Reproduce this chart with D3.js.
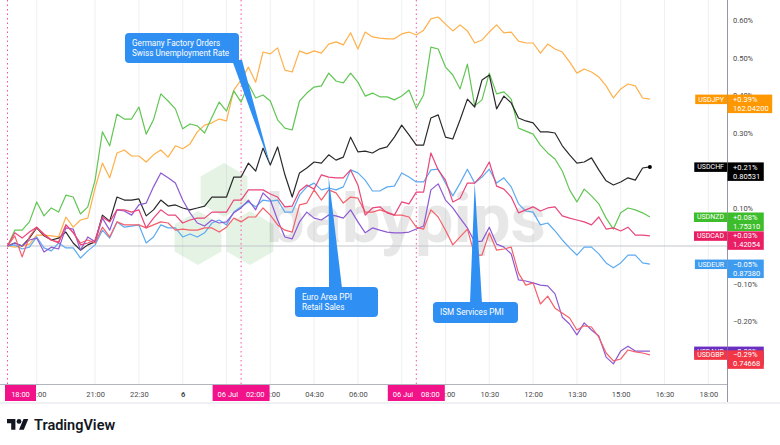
<!DOCTYPE html>
<html>
<head>
<meta charset="utf-8">
<script src="https://cdn.jsdelivr.net/npm/d3@7"></script>
<style>
  body { margin: 0; background: #fff; }
  svg { display: block; font-family: Roboto, "Open Sans", sans-serif; }
</style>
</head>
<body>
<div id="chart"></div>
<script>
// % change since 18:00, one value every 15 min (18:00 -> 16:00 next day)
const usdjpy = [0, -0.003, 0, 0.005, 0.029, 0.029, 0.027, 0.024, 0.077, 0.050,
  0.069, 0.074, 0.154, 0.220, 0.181, 0.247, 0.255, 0.239, 0.239, 0.223,
  0.242, 0.255, 0.236, 0.266, 0.258, 0.271, 0.303, 0.321, 0.327, 0.337,
  0.332, 0.414, 0.441, 0.475, 0.435, 0.515, 0.510, 0.526, 0.467, 0.462,
  0.518, 0.510, 0.518, 0.512, 0.536, 0.542, 0.534, 0.566, 0.523, 0.568,
  0.555, 0.552, 0.550, 0.550, 0.563, 0.568, 0.560, 0.573, 0.603, 0.608,
  0.589, 0.571, 0.587, 0.571, 0.539, 0.547, 0.568, 0.587, 0.566, 0.568,
  0.544, 0.539, 0.539, 0.512, 0.536, 0.523, 0.515, 0.489, 0.459, 0.470,
  0.462, 0.449, 0.425, 0.393, 0.417, 0.430, 0.425, 0.393, 0.390];
const usdnzd = [0, 0.042, 0.042, 0.064, 0.117, 0.080, 0.101, 0.090, 0.135, 0.130,
  0.085, 0.104, 0.175, 0.303, 0.266, 0.350, 0.337, 0.337, 0.369, 0.297,
  0.335, 0.404, 0.385, 0.364, 0.311, 0.324, 0.319, 0.300, 0.342, 0.382,
  0.358, 0.412, 0.382, 0.430, 0.393, 0.401, 0.385, 0.335, 0.313, 0.308,
  0.385, 0.406, 0.422, 0.425, 0.459, 0.438, 0.433, 0.459, 0.435, 0.398,
  0.406, 0.396, 0.396, 0.388, 0.398, 0.414, 0.366, 0.401, 0.528, 0.523,
  0.475, 0.454, 0.417, 0.483, 0.372, 0.388, 0.459, 0.404, 0.409, 0.390,
  0.313, 0.305, 0.297, 0.268, 0.247, 0.231, 0.199, 0.149, 0.117, 0.151,
  0.133, 0.112, 0.074, 0.045, 0.088, 0.101, 0.096, 0.088, 0.077];
const usdchf = [0, 0.008, 0, 0.021, 0.048, 0.027, 0.016, 0.021, 0.037, 0.008,
  -0.011, 0.003, 0.011, 0.082, 0.066, 0.130, 0.122, 0.122, 0.125, 0.080,
  0.096, 0.122, 0.106, 0.109, 0.101, 0.096, 0.101, 0.106, 0.130, 0.130,
  0.130, 0.183, 0.183, 0.220, 0.199, 0.260, 0.215, 0.263, 0.189, 0.130,
  0.194, 0.207, 0.223, 0.220, 0.242, 0.228, 0.236, 0.289, 0.250, 0.252,
  0.247, 0.258, 0.263, 0.289, 0.321, 0.295, 0.268, 0.268, 0.340, 0.348,
  0.289, 0.284, 0.335, 0.390, 0.369, 0.441, 0.454, 0.364, 0.398, 0.380,
  0.340, 0.332, 0.327, 0.303, 0.303, 0.300, 0.266, 0.242, 0.220, 0.223,
  0.234, 0.202, 0.173, 0.162, 0.170, 0.181, 0.175, 0.207, 0.210];
const usdeur = [0, 0.003, -0.008, -0.003, 0.024, -0.005, -0.013, 0.008, -0.005, -0.005,
  -0.032, -0.013, 0.003, 0.042, 0.021, 0.064, 0.050, 0.053, 0.056, 0.008,
  0.024, 0.056, 0.048, 0.048, 0.024, 0.032, 0.024, 0.035, 0.061, 0.069,
  0.056, 0.090, 0.104, 0.117, 0.104, 0.122, 0.119, 0.122, 0.090, 0.090,
  0.135, 0.157, 0.167, 0.149, 0.154, 0.149, 0.157, 0.202, 0.194, 0.175,
  0.146, 0.146, 0.157, 0.159, 0.194, 0.183, 0.170, 0.170, 0.202, 0.204,
  0.167, 0.133, 0.167, 0.204, 0.167, 0.183, 0.204, 0.167, 0.181, 0.157,
  0.112, 0.093, 0.090, 0.056, 0.061, 0.040, 0.016, -0.005, -0.024, -0.003,
  -0.003, -0.021, -0.045, -0.058, -0.045, -0.024, -0.024, -0.045, -0.048];
const usdcad = [0, 0.035, 0.021, 0.037, 0.050, 0.032, 0.016, 0.008, 0.056, 0.037,
  0.003, 0.008, 0.016, 0.077, 0.064, 0.096, 0.096, 0.090, 0.096, 0.048,
  0.074, 0.096, 0.082, 0.082, 0.061, 0.069, 0.074, 0.074, 0.090, 0.090,
  0.090, 0.122, 0.122, 0.149, 0.149, 0.149, 0.138, 0.130, 0.104, 0.106,
  0.146, 0.162, 0.151, 0.189, 0.183, 0.181, 0.181, 0.202, 0.162, 0.082,
  0.101, 0.104, 0.088, 0.082, 0.117, 0.112, 0.143, 0.143, 0.247, 0.202,
  0.175, 0.117, 0.127, 0.167, 0.167, 0.189, 0.223, 0.159, 0.151, 0.130,
  0.088, 0.096, 0.104, 0.093, 0.101, 0.104, 0.080, 0.074, 0.069, 0.064,
  0.056, 0.077, 0.045, 0.048, 0.040, 0.050, 0.029, 0.029, 0.027];
const usdgbp = [0, 0.027, -0.029, 0.024, 0.050, 0.029, 0.016, 0.011, 0.056, 0.035,
  0.008, 0.016, 0.008, 0.050, 0.024, 0.064, 0.056, 0.056, 0.056, 0.048,
  0.056, 0.064, 0.061, 0.042, 0.045, 0.042, 0.042, 0.048, 0.048, 0.037,
  0.050, 0.074, 0.064, 0.077, 0.077, 0.101, 0.082, 0.056, 0.042, 0.037,
  0.109, 0.114, 0.149, 0.122, 0.149, 0.141, 0.114, 0.130, 0.127, 0.090,
  0.090, 0.096, 0.090, 0.082, 0.082, 0.077, 0.050, 0.045, 0.096, 0.077,
  0.042, 0.003, 0.024, 0.045, -0.024, -0.024, 0.035, -0.011, -0.008, -0.003,
  -0.072, -0.104, -0.098, -0.154, -0.133, -0.165, -0.178, -0.191, -0.223, -0.212,
  -0.215, -0.242, -0.284, -0.305, -0.300, -0.276, -0.281, -0.284, -0.289];
const usdaud = [0, 0.008, 0, 0.016, 0.021, -0.016, -0.003, -0.008, 0.048, 0.045,
  -0.011, 0.024, 0.011, 0.074, 0.042, 0.096, 0.093, 0.082, 0.109, 0.114,
  0.157, 0.194, 0.181, 0.167, 0.122, 0.088, 0.061, 0.053, 0.069, 0.061,
  0.064, 0.088, 0.101, 0.122, 0.096, 0.141, 0.122, 0.069, 0.024, 0.019,
  0.064, 0.090, 0.074, 0.069, 0.082, 0.080, 0.074, 0.096, 0.064, 0.035,
  0.048, 0.042, 0.037, 0.035, 0.035, 0.037, 0.045, 0.053, 0.149, 0.165,
  0.122, 0.101, 0.074, 0.048, 0.011, 0.013, 0.050, 0.005, -0.003, -0.021,
  -0.090, -0.093, -0.098, -0.104, -0.106, -0.127, -0.189, -0.207, -0.236, -0.204,
  -0.223, -0.239, -0.295, -0.313, -0.279, -0.266, -0.279, -0.279, -0.279];

// hours since 18:00
const hours = usdjpy.map((d, i) => i * 0.25);

// bottom axis ticks (hours since 18:00) and their labels
const tickHours = [1, 3, 4.5, 6, 7.5, 9, 10.5, 12, 13.5, 15, 16.5, 18, 19.5, 21, 22.5, 24];
const tickLabels = ["19:00", "21:00", "22:30", "6", "01:30", "03:00", "04:30", "06:00",
  "07:30", "09:00", "10:30", "12:00", "13:30", "15:00", "16:30", "18:00"];
const yTicks = [-0.3, -0.2, -0.1, 0, 0.1, 0.2, 0.3, 0.4, 0.5, 0.6];

// session breaks
const sessionHours = [0, 8, 14];
const sessionLabels = [["18:00"], ["06 Jul", "02:00"], ["06 Jul", "08:00"]];

// last value tags
const tagNames = ["USDJPY", "USDCHF", "USDNZD", "USDCAD", "USDEUR", "USDAUD", "USDGBP"];
const tagChanges = ["+0.39%", "+0.21%", "+0.08%", "+0.03%", "\u22120.05%", "\u22120.28%", "\u22120.29%"];
const tagPrices = ["162.04200", "0.80531", "1.75310", "1.42054", "0.87380", "1.48391", "0.74668"];

// news events
const eventTexts = [["Germany Factory Orders", "Swiss Unemployment Rate"],
  ["Euro Area PPI", "Retail Sales"], ["ISM Services PMI"]];
const eventHours = [9, 11, 16];
const eventSeries = ["USDCHF", "USDCAD", "USDEUR"];

const valuesBy = { USDJPY: usdjpy, USDNZD: usdnzd, USDCHF: usdchf, USDEUR: usdeur,
  USDAUD: usdaud, USDGBP: usdgbp, USDCAD: usdcad };
const lineColor = { USDJPY: "#ffb04a", USDNZD: "#62c655", USDCHF: "#2a2a2a", USDEUR: "#5caaf2",
  USDAUD: "#8d5ad3", USDGBP: "#f4606a", USDCAD: "#e9467a" };
const tagColor = { USDJPY: "#ff9800", USDNZD: "#3dbd2b", USDCHF: "#000000", USDEUR: "#3d9cf0",
  USDAUD: "#6b2fc0", USDGBP: "#f23645", USDCAD: "#e91e63" };
const drawOrder = ["USDJPY", "USDNZD", "USDCHF", "USDEUR", "USDAUD", "USDGBP", "USDCAD"];

/** LAYOUT */
const W = 780, H = 445;
const plotRight = 727, axisY = 384;
const pink = "#f2138a";

const x = d3.scaleLinear().domain([0, 24]).range([7.5, 708.3]);
const y = d3.scaleLinear().domain([0, 0.6]).range([246, 20]);

const svg = d3.select("#chart").append("svg").attr("width", W).attr("height", H);
svg.append("rect").attr("width", W).attr("height", H).attr("fill", "#fff");

// vertical grid
svg.append("g").selectAll("line").data(tickHours).join("line")
  .attr("x1", d => x(d)).attr("x2", d => x(d))
  .attr("y1", 0).attr("y2", axisY)
  .attr("stroke", "#eff0f3");

// watermark
const wm = svg.append("g");
const hexPts = (cx, cy, r) => d3.range(6).map(k => {
  const a = Math.PI / 3 * k - Math.PI / 2;
  return [cx + r * Math.cos(a), cy + r * Math.sin(a)];
});
[[224, 190], [198, 238], [250, 238]].forEach(c => {
  wm.append("polygon").attr("points", hexPts(c[0], c[1], 27).join(" "))
    .attr("fill", "#5cb85c").attr("opacity", 0.17);
});
wm.append("text").attr("x", 266).attr("y", 242)
  .attr("font-size", 68).attr("font-weight", 700)
  .attr("textLength", 280).attr("lengthAdjust", "spacingAndGlyphs")
  .attr("fill", "#000").attr("opacity", 0.09)
  .text("babypips");

// zero line
svg.append("line").attr("x1", 0).attr("x2", plotRight)
  .attr("y1", y(0)).attr("y2", y(0)).attr("stroke", "#c3c5ca");

// session break lines
svg.append("g").selectAll("line").data(sessionHours).join("line")
  .attr("x1", d => x(d)).attr("x2", d => x(d))
  .attr("y1", 0).attr("y2", axisY)
  .attr("stroke", "#ff4fa3").attr("stroke-dasharray", "1.5,3");

// series
const line = d3.line().x((d, i) => x(hours[i])).y(d => y(d));
svg.append("g").selectAll("path").data(drawOrder).join("path")
  .attr("d", k => line(valuesBy[k]))
  .attr("fill", "none")
  .attr("stroke", k => lineColor[k])
  .attr("stroke-width", 1.2)
  .attr("stroke-linejoin", "round");

svg.append("circle")
  .attr("cx", x(hours[hours.length - 1]))
  .attr("cy", y(usdchf[usdchf.length - 1]))
  .attr("r", 2).attr("fill", "#000");

// callouts
const blue = "#2f8ff2";
const boxes = [{ x: 125, y: 33, w: 114, h: 30, base: [232, 242, 60] },
  { x: 295, y: 287, w: 83, h: 30, base: [329, 342, 288] },
  { x: 433, y: 302, w: 85, h: 21, base: [470, 482, 303] }];
eventTexts.forEach((lines, i) => {
  const b = boxes[i];
  const vals = valuesBy[eventSeries[i]];
  const tx = x(eventHours[i]), ty = y(vals[eventHours[i] * 4]);
  const g = svg.append("g");
  g.append("polygon")
    .attr("points", [[b.base[0], b.base[2]], [b.base[1], b.base[2]], [tx, ty]].join(" "))
    .attr("fill", blue);
  g.append("rect").attr("x", b.x).attr("y", b.y).attr("width", b.w).attr("height", b.h)
    .attr("rx", 4).attr("fill", blue);
  const start = b.y + b.h / 2 - (lines.length - 1) * 4.8;
  lines.forEach((t, j) => {
    g.append("text").attr("x", b.x + 7).attr("y", start + j * 9.6)
      .attr("dy", "0.35em").attr("font-size", 8.2).attr("fill", "#fff").text(t);
  });
});

// session box extents, to drop the time labels they fully cover
const sessionBoxes = sessionHours.map((h, i) => {
  const w = sessionLabels[i].length > 1 ? 57 : 31;
  const left = Math.max(5, x(h) - w / 2);
  return [left, left + w];
});
const covered = h => sessionBoxes.some(b => x(h) - 9 >= b[0] && x(h) + 9 <= b[1]);

// bottom axis
const xAxis = d3.axisBottom(x).tickValues(tickHours.filter(h => !covered(h)))
  .tickFormat(d => tickLabels[tickHours.indexOf(d)]).tickSize(0);
const gx = svg.append("g").attr("transform", `translate(0,${axisY})`).call(xAxis);
gx.select(".domain").remove();
gx.attr("font-family", null).attr("font-size", null);
gx.selectAll("text").attr("y", 10).attr("dy", "0.35em")
  .attr("font-size", 7.5).attr("fill", "#4a4a4a")
  .attr("font-weight", d => d === 6 ? 700 : 400);
svg.append("line").attr("x1", 0).attr("x2", plotRight)
  .attr("y1", axisY + 0.5).attr("y2", axisY + 0.5).attr("stroke", "#b2b5be");

// value tag boxes (vertical extent), to drop price labels they fully cover
const tagSpans = tagNames.map(n => {
  const v = valuesBy[n];
  const cy = y(v[v.length - 1]);
  return [cy - 4.5, cy + 14];
});
const hiddenTick = d => tagSpans.some(s => y(d) - 3 >= s[0] && y(d) + 3 <= s[1]);

// right axis
const yAxis = d3.axisRight(y).tickValues(yTicks.filter(d => !hiddenTick(d)))
  .tickSize(0).tickPadding(6)
  .tickFormat(d => (d < 0 ? "\u2212" : "") + Math.abs(d).toFixed(2) + "%");
const gy = svg.append("g").attr("transform", `translate(${plotRight},0)`).call(yAxis);
gy.select(".domain").remove();
gy.attr("font-family", null).attr("font-size", null);
gy.selectAll("text").attr("font-size", 7.5).attr("fill", "#4a4a4a");
svg.append("line").attr("x1", plotRight + 0.5).attr("x2", plotRight + 0.5)
  .attr("y1", 0).attr("y2", 404).attr("stroke", "#9598a1");

// session boxes on the time axis
sessionHours.forEach((h, i) => {
  const parts = sessionLabels[i];
  const left = sessionBoxes[i][0], w = sessionBoxes[i][1] - left;
  const g = svg.append("g");
  g.append("rect").attr("x", left).attr("y", axisY + 1).attr("width", w).attr("height", 16)
    .attr("fill", pink);
  if (parts.length > 1) {
    g.append("text").attr("x", left + 5).attr("y", axisY + 10).attr("dy", "0.35em")
      .attr("font-size", 7.5).attr("fill", "#fff").text(parts[0]);
    g.append("text").attr("x", left + w - 5).attr("y", axisY + 10).attr("dy", "0.35em")
      .attr("text-anchor", "end").attr("font-size", 7.5).attr("fill", "#fff").text(parts[1]);
  } else {
    g.append("text").attr("x", left + w / 2).attr("y", axisY + 10).attr("dy", "0.35em")
      .attr("text-anchor", "middle").attr("font-size", 7.5).attr("fill", "#fff").text(parts[0]);
  }
});

// last value tags
tagNames.forEach((name, i) => {
  const vals = valuesBy[name];
  const cy = y(vals[vals.length - 1]);
  const g = svg.append("g");
  const nameRect = g.append("rect").attr("fill", tagColor[name]);
  const nameText = g.append("text").attr("x", plotRight - 3).attr("y", cy).attr("dy", "0.35em")
    .attr("text-anchor", "end").attr("font-size", 7).attr("fill", "#fff").text(name);
  const nw = nameText.node().getComputedTextLength();
  nameRect.attr("x", plotRight - nw - 6).attr("y", cy - 4.5).attr("width", nw + 6).attr("height", 9.5);

  const valRect = g.append("rect").attr("fill", tagColor[name]);
  const t1 = g.append("text").attr("x", 733).attr("y", cy).attr("dy", "0.35em")
    .attr("font-size", 7.5).attr("fill", "#fff").text(tagChanges[i]);
  const t2 = g.append("text").attr("x", 733).attr("y", cy + 9).attr("dy", "0.35em")
    .attr("font-size", 7.5).attr("fill", "#fff").text(tagPrices[i]);
  const vw = Math.max(t1.node().getComputedTextLength(), t2.node().getComputedTextLength());
  valRect.attr("x", plotRight + 0.5).attr("y", cy - 4.5).attr("width", vw + 9).attr("height", 18.5);
});

// footer
svg.append("rect").attr("x", 0).attr("y", 402).attr("width", W).attr("height", 2).attr("fill", "#eef0f3");
const logo = svg.append("g").attr("transform", "translate(7,416.6) scale(0.6)").attr("fill", "#131722");
logo.append("path").attr("d", "M14 22H7V11H0V4h14v18zM28 22h-8l7.5-18h8L28 22z");
logo.append("circle").attr("cx", 20).attr("cy", 8).attr("r", 4);
svg.append("text").attr("x", 34).attr("y", 429.5)
  .attr("font-size", 14.5).attr("font-weight", 600).attr("fill", "#131722")
  .text("TradingView");
</script>
</body>
</html>
